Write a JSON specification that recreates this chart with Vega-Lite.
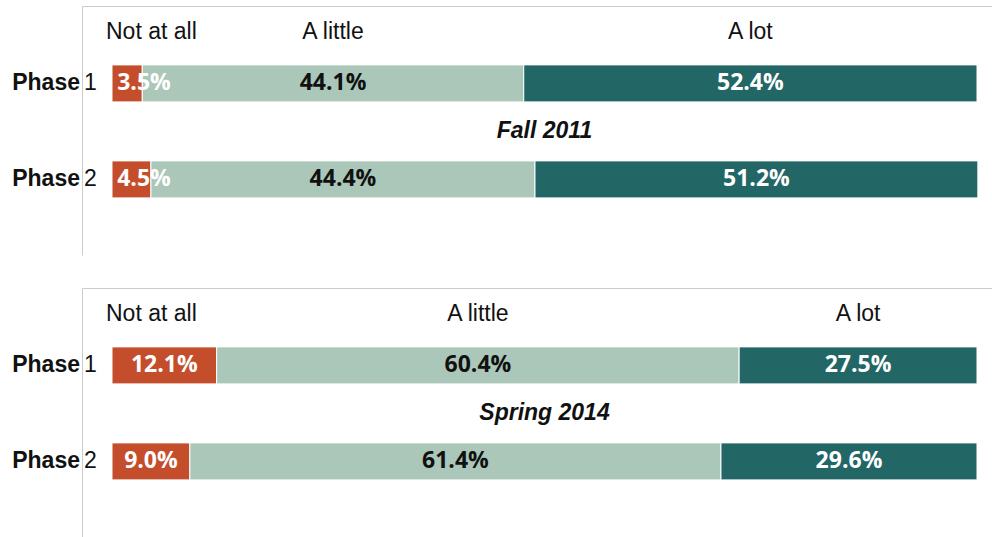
{
  "$schema": "https://vega.github.io/schema/vega-lite/v6.json",
  "background": "white",
  "padding": {"left": 12, "top": 6, "right": 0, "bottom": 0},
  "data": {
    "values": [
      {"panel": "Fall 2011", "phase": "Phase 1", "category": "Not at all", "pct": 3.5},
      {"panel": "Fall 2011", "phase": "Phase 1", "category": "A little", "pct": 44.1},
      {"panel": "Fall 2011", "phase": "Phase 1", "category": "A lot", "pct": 52.4},
      {"panel": "Fall 2011", "phase": "Phase 2", "category": "Not at all", "pct": 4.5},
      {"panel": "Fall 2011", "phase": "Phase 2", "category": "A little", "pct": 44.4},
      {"panel": "Fall 2011", "phase": "Phase 2", "category": "A lot", "pct": 51.2},
      {"panel": "Spring 2014", "phase": "Phase 1", "category": "Not at all", "pct": 12.1},
      {"panel": "Spring 2014", "phase": "Phase 1", "category": "A little", "pct": 60.4},
      {"panel": "Spring 2014", "phase": "Phase 1", "category": "A lot", "pct": 27.5},
      {"panel": "Spring 2014", "phase": "Phase 2", "category": "Not at all", "pct": 9.0},
      {"panel": "Spring 2014", "phase": "Phase 2", "category": "A little", "pct": 61.4},
      {"panel": "Spring 2014", "phase": "Phase 2", "category": "A lot", "pct": 29.6}
    ]
  },
  "transform": [
    {"calculate": "indexof(['Not at all','A little','A lot'], datum.category)", "as": "ord"}
  ],
  "facet": {
    "row": {"field": "panel", "type": "nominal", "sort": ["Fall 2011", "Spring 2014"], "header": null}
  },
  "spacing": 33,
  "resolve": {"axis": {"x": "independent", "y": "independent"}},
  "spec": {
    "width": 910,
    "height": 249,
    "layer": [
      {
        "mark": {"type": "bar", "stroke": "white", "strokeWidth": 1},
        "encoding": {
          "y": {
            "field": "phase", "type": "nominal",
            "scale": {"domain": ["header", "Phase 1", "title", "Phase 2"], "paddingInner": 0.229, "paddingOuter": 0.708, "align": 0.16},
            "axis": {"labels": false, "ticks": false, "title": null, "domainColor": "#cccccc", "domainWidth": 1}
          },
          "x": {
            "field": "pct", "type": "quantitative", "stack": "zero",
            "scale": {"domain": [-3.468, 101.734], "nice": false, "zero": false},
            "axis": {"orient": "top", "labels": false, "ticks": false, "grid": false, "title": null, "domainColor": "#cccccc", "domainWidth": 1}
          },
          "order": {"field": "ord", "type": "quantitative"},
          "color": {
            "field": "category", "type": "nominal",
            "scale": {"domain": ["Not at all", "A little", "A lot"], "range": ["#C44E2C", "#AAC7B9", "#236666"]},
            "legend": null
          }
        }
      },
      {
        "transform": [
          {"stack": "pct", "groupby": ["panel", "phase"], "sort": [{"field": "ord"}], "as": ["s0", "s1"]},
          {"calculate": "max((datum.s0 + datum.s1) / 2, 3.7)", "as": "lx"},
          {"calculate": "format(datum.pct, '.1f') + '%'", "as": "lbl"}
        ],
        "mark": {"type": "text", "font": "Open Sans", "fontWeight": "bold", "fontSize": 23, "baseline": "middle", "align": "center"},
        "encoding": {
          "y": {"field": "phase", "type": "nominal"},
          "x": {"field": "lx", "type": "quantitative"},
          "text": {"field": "lbl"},
          "color": {"condition": {"test": "datum.category === 'A little'", "value": "#111111"}, "value": "white"}
        }
      },
      {
        "transform": [
          {"filter": "datum.phase === 'Phase 1'"},
          {"stack": "pct", "groupby": ["panel", "phase"], "sort": [{"field": "ord"}], "as": ["s0", "s1"]},
          {"calculate": "(datum.s0 + datum.s1) / 2", "as": "mid"},
          {"filter": "datum.category !== 'Not at all'"}
        ],
        "mark": {"type": "text", "font": "Liberation Sans", "fontSize": 23, "baseline": "middle", "align": "center", "dy": -3, "color": "#111111"},
        "encoding": {
          "y": {"datum": "header"},
          "x": {"field": "mid", "type": "quantitative"},
          "text": {"field": "category"}
        }
      },
      {
        "transform": [
          {"filter": "datum.phase === 'Phase 1' && datum.category === 'Not at all'"}
        ],
        "mark": {"type": "text", "font": "Liberation Sans", "fontSize": 23, "baseline": "middle", "align": "left", "dx": -6, "dy": -3, "color": "#111111"},
        "encoding": {
          "y": {"datum": "header"},
          "x": {"datum": 0},
          "text": {"field": "category"}
        }
      },
      {
        "transform": [
          {"filter": "datum.phase === 'Phase 1' && datum.category === 'Not at all'"}
        ],
        "mark": {"type": "text", "font": "Liberation Sans", "fontSize": 23, "fontWeight": "bold", "fontStyle": "italic", "baseline": "middle", "align": "center", "color": "#111111"},
        "encoding": {
          "y": {"datum": "title"},
          "x": {"datum": 50},
          "text": {"field": "panel"}
        }
      },
      {
        "transform": [
          {"filter": "datum.category === 'Not at all'"}
        ],
        "mark": {"type": "text", "font": "Liberation Sans", "fontSize": 23, "fontWeight": "bold", "baseline": "middle", "align": "right", "dx": -2, "color": "#111111"},
        "encoding": {
          "y": {"field": "phase", "type": "nominal"},
          "x": {"datum": -3.468},
          "text": {"value": "Phase"}
        }
      },
      {
        "transform": [
          {"filter": "datum.category === 'Not at all'"},
          {"calculate": "replace(datum.phase, 'Phase ', '')", "as": "num"}
        ],
        "mark": {"type": "text", "font": "Liberation Sans", "fontSize": 23, "baseline": "middle", "align": "left", "dx": 2, "color": "#111111"},
        "encoding": {
          "y": {"field": "phase", "type": "nominal"},
          "x": {"datum": -3.468},
          "text": {"field": "num"}
        }
      }
    ]
  },
  "config": {"view": {"stroke": null}}
}
